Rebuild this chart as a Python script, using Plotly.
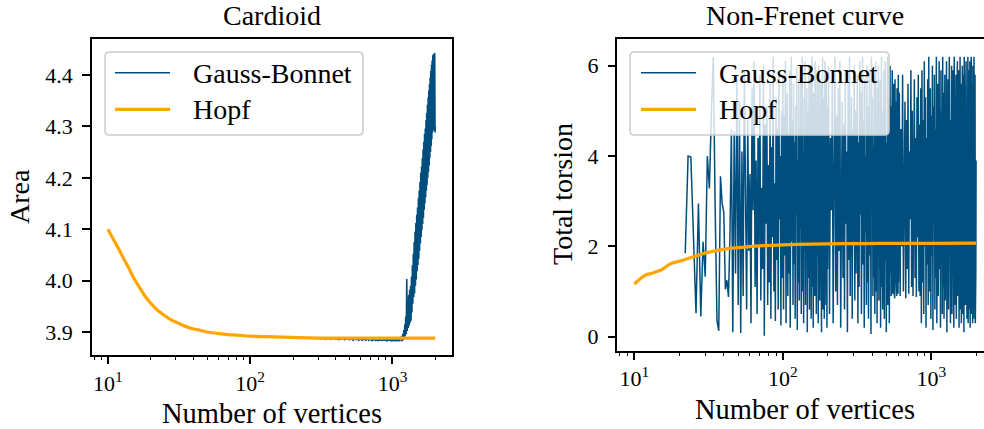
import plotly.graph_objects as go

W, H = 984, 429
BLUE = "#004e7e"
ORANGE = "#ffa500"
FONT = "Liberation Serif"

# ---------------- data ----------------
titles = ["Cardioid", "Non-Frenet curve"]
ylabels = ["Area", "Total torsion"]
xlabel = "Number of vertices"
series_names = ["Gauss-Bonnet", "Hopf"]
xtick_vals = [10, 100, 1000]
xtick_text = ["10<sup>1</sup>", "10<sup>2</sup>", "10<sup>3</sup>"]
xminor_vals = [8, 9, 20, 30, 40, 50, 60, 70, 80, 90,
               200, 300, 400, 500, 600, 700, 800, 900, 2000]
ytick_left = [3.9, 4.0, 4.1, 4.2, 4.3, 4.4]
ytick_right = [0, 2, 4, 6]

# Cardioid, Hopf
card_hopf_n = [10, 11, 12, 13, 14, 15, 16, 17, 18, 20, 22, 25, 28, 32, 36, 40,
               45, 50, 60, 70, 80, 100, 130, 170, 220, 300, 400, 600, 1000, 1500, 2000]
card_hopf_area = [4.100, 4.079, 4.060, 4.041, 4.025, 4.008, 3.995, 3.983, 3.972,
                  3.956, 3.944, 3.932, 3.923, 3.916, 3.910, 3.906, 3.903, 3.900,
                  3.897, 3.895, 3.894, 3.892, 3.891, 3.890, 3.889, 3.888, 3.888,
                  3.888, 3.888, 3.888, 3.888]

# Cardioid, Gauss-Bonnet (n = 300, 310, ..., 2000)
card_gb_n = list(range(300, 2001, 10))
card_gb_area = [
    3.888, 3.887, 3.888, 3.887, 3.886, 3.888, 3.887, 3.886, 3.888, 3.887,
    3.886, 3.888, 3.885, 3.887, 3.886, 3.888, 3.885, 3.887, 3.886, 3.888,
    3.885, 3.887, 3.886, 3.884, 3.888, 3.886, 3.885, 3.887, 3.884, 3.886,
    3.887, 3.884, 3.886, 3.885, 3.888, 3.884, 3.886, 3.887, 3.884, 3.885,
    3.887, 3.884, 3.886, 3.883, 3.888, 3.885, 3.884, 3.887, 3.883, 3.886,
    3.884, 3.887, 3.883, 3.886, 3.885, 3.883, 3.888, 3.884, 3.886, 3.883,
    3.887, 3.884, 3.882, 3.886, 3.884, 3.889, 3.883, 3.885, 3.882, 3.887,
    3.884, 3.882, 3.888, 3.883, 3.886, 3.882, 3.889, 3.884, 3.882, 3.887,
    3.883, 3.890, 3.882, 3.886, 3.884, 3.891, 3.885,
    3.882, 3.896, 3.884, 3.904, 3.886, 3.915, 3.892, 3.930, 3.896, 4.003,
    3.902, 3.962, 3.908, 3.972, 3.912, 3.982, 3.918, 3.990, 3.922, 4.008,
    3.938, 4.030, 3.955, 4.052, 3.968, 4.075, 3.975, 4.095, 3.990, 4.112,
    4.002, 4.128, 4.018, 4.142, 4.030, 4.160, 4.042, 4.175, 4.058, 4.192,
    4.072, 4.210, 4.085, 4.222, 4.098, 4.238, 4.110, 4.255, 4.122, 4.270,
    4.138, 4.285, 4.150, 4.296, 4.162, 4.312, 4.175, 4.326, 4.186, 4.342,
    4.200, 4.356, 4.212, 4.370, 4.224, 4.382, 4.238, 4.395, 4.250, 4.408,
    4.262, 4.420, 4.275, 4.428, 4.288, 4.436, 4.296, 4.440, 4.292, 4.438,
    4.298, 4.443, 4.288, 4.300,
]

# Non-Frenet curve, Hopf
nf_hopf_n = [10, 11, 12, 13, 14, 15, 16, 17, 18, 19, 20, 22, 25, 29, 35, 44,
             55, 74, 100, 125, 200, 350, 600, 1000, 2000]
nf_hopf_tors = [1.166, 1.29, 1.37, 1.40, 1.44, 1.47, 1.53, 1.59, 1.63, 1.65, 1.67,
                1.71, 1.77, 1.84, 1.90, 1.955, 1.985, 2.015, 2.032, 2.044, 2.055,
                2.062, 2.066, 2.068, 2.07]

# Non-Frenet curve, Gauss-Bonnet
nf_gb_n = (list(range(22, 200)) + list(range(200, 600, 3)) + list(range(600, 2001, 8)))
nf_gb_tors = [
    # 22-50
    1.85, 4.00, 3.98, 2.30, 0.52, 2.95, 0.45, 2.10, 1.33, 4.00, 3.28, 4.95, 6.20,
    2.80, 0.35, 0.13, 3.55, 2.95, 2.75, 1.05, 1.25, 0.88, 2.20, 4.60, 0.10, 4.55,
    1.40, 5.70, 0.70,
    # 51-99
    5.20, 0.08, 4.10, 0.90, 5.90, 2.30, 0.60, 4.80, 1.90, 3.60, 0.30, 5.50, 2.80,
    6.10, 1.10, 3.90, 0.50, 4.40, 2.00, 5.80, 0.80, 3.30, 1.50, 6.00, 0.02, 4.70,
    2.50, 5.10, 0.70, 3.80, 1.20, 5.60, 0.40, 4.20, 2.20, 6.20, 1.00, 3.40, 0.35,
    5.30, 1.70, 4.60, 0.60, 5.90, 2.60, 4.00, 0.25, 5.00, 1.30,
    # 100-199
    5.8, 0.6, 4.9, 1.8, 6.1, 0.3, 3.7, 5.4, 0.9, 4.5,
    1.4, 5.9, 0.2, 3.2, 6.2, 2.1, 4.8, 0.7, 5.6, 1.6,
    4.3, 0.4, 5.1, 2.7, 6.0, 0.15, 3.9, 1.2, 5.7, 0.8,
    4.6, 2.4, 5.9, 0.5, 3.5, 6.2, 1.0, 4.1, 0.3, 5.3,
    1.9, 6.1, 0.7, 4.4, 2.9, 5.5, 0.1, 3.8, 5.0, 1.3,
    6.0, 0.6, 4.7, 1.7, 5.8, 0.4, 3.3, 6.2, 1.1, 4.9,
    0.2, 5.4, 2.2, 4.0, 0.9, 6.1, 1.5, 5.2, 0.5, 3.6,
    5.9, 1.8, 4.5, 0.3, 6.0, 2.6, 5.0, 0.8, 3.1, 5.7,
    1.0, 4.2, 0.1, 5.6, 2.0, 6.2, 0.6, 4.8, 1.4, 5.3,
    0.4, 3.9, 6.1, 1.2, 4.6, 0.7, 5.8, 2.3, 0.2, 5.1,
    # 200-599 step 3
    1.5, 6.0, 0.5, 4.4, 2.8, 5.7, 0.3, 3.6, 6.2, 1.0,
    4.9, 0.7, 5.5, 1.9, 6.1, 0.2, 3.4, 5.2, 1.3, 4.7,
    0.6, 5.9, 2.5, 4.1, 0.1, 5.6, 1.7, 6.2, 0.9, 3.8,
    5.3, 0.4, 4.6, 2.1, 6.0, 0.8, 5.0, 1.4, 3.2, 5.8,
    0.3, 4.3, 1.1, 6.1, 2.7, 5.4, 0.5, 3.9, 6.2, 1.6,
    4.8, 0.2, 5.7, 2.3, 4.0, 0.7, 6.0, 1.2, 5.1, 0.4,
    3.5, 5.9, 1.8, 4.5, 0.06, 6.2, 2.9, 5.3, 0.9, 4.2,
    1.3, 5.8, 0.5, 3.7, 6.1, 1.0, 4.9, 0.3, 5.5, 2.2,
    6.0, 0.8, 4.4, 1.5, 5.7, 0.2, 3.3, 6.2, 1.1, 5.0,
    0.6, 4.7, 2.6, 5.9, 0.4, 3.8, 6.1, 1.7, 4.3, 0.1,
    5.6, 2.0, 6.2, 0.7, 4.6, 1.2, 5.3, 0.3, 3.6, 6.0,
    1.4, 5.1, 0.9, 4.8, 2.4, 5.9, 0.95, 4.1, 1.8, 5.6,
    1.0, 4.4, 0.85, 5.7, 2.1, 5.2, 1.3, 4.9, 0.9, 5.5,
    1.6, 4.2, 0.95, 5.8,
    # 600-848 step 8
    1.2, 5.4, 0.9, 4.6, 2.0, 5.8, 1.0, 3.9, 5.2, 0.85,
    4.8, 1.5, 5.6, 0.95, 4.1, 2.6, 5.9, 1.1, 5.0, 0.9,
    3.6, 5.7, 1.3, 4.4, 0.88, 5.3, 2.2, 5.8, 1.0, 4.7,
    0.9, 5.5,
    # 856-2000 step 8
    0.3, 5.9, 1.2, 4.8, 0.5, 6.1, 2.0, 5.3, 0.2, 4.4, 1.6, 5.7,
    0.7, 6.2, 1.0, 3.8, 5.5, 0.4, 4.9, 1.8, 6.0, 0.15, 5.1, 2.5,
    5.8, 0.6, 4.6, 1.3, 6.2, 0.3, 3.5, 5.6, 0.9, 4.2, 6.1, 1.5,
    5.0, 0.2, 5.9, 2.2, 4.7, 0.5, 6.2, 1.1, 5.4, 0.4, 3.9, 5.8,
    0.8, 4.5, 1.7, 6.1, 0.1, 5.2, 2.8, 5.7, 0.6, 4.3, 6.2, 1.2,
    5.5, 0.3, 4.8, 1.9, 6.0, 0.5, 3.7, 5.9, 1.0, 4.6, 0.2, 6.2,
    1.4, 5.3, 0.7, 4.1, 5.8, 0.4, 5.0, 2.3, 6.1, 0.9, 4.4, 1.6,
    5.9, 0.2, 4.9, 1.1, 6.2, 0.6, 3.6, 5.6, 0.3, 5.2, 1.8, 6.0,
    0.5, 4.7, 2.0, 5.8, 0.1, 6.2, 1.3, 4.3, 5.5, 0.7, 3.9, 6.1,
    1.0, 5.4, 0.4, 4.6, 2.5, 6.2, 0.3, 5.1, 1.5, 5.9, 0.6, 4.8,
    6.1, 0.2, 3.8, 5.7, 1.2, 6.2, 0.5, 4.5, 1.9, 5.6, 0.3, 6.0,
    0.9, 5.2, 0.4, 6.2, 1.7, 4.9, 0.6, 5.8, 0.3, 4.2, 1.4, 3.9,
]

assert len(card_hopf_n) == len(card_hopf_area), (len(card_hopf_n), len(card_hopf_area))
assert len(card_gb_n) == len(card_gb_area), (len(card_gb_n), len(card_gb_area))
assert len(nf_hopf_n) == len(nf_hopf_tors), (len(nf_hopf_n), len(nf_hopf_tors))
assert len(nf_gb_n) == len(nf_gb_tors), (len(nf_gb_n), len(nf_gb_tors))

# ---------------- layout helpers (pixel -> paper) ----------------
def PX(p):
    return p / W


def PY(p):
    return 1 - p / H


def rrect(x0, y0, x1, y1, r):
    pts = [
        ("M", [(x0 + r, y0)]), ("L", [(x1 - r, y0)]), ("Q", [(x1, y0), (x1, y0 + r)]),
        ("L", [(x1, y1 - r)]), ("Q", [(x1, y1), (x1 - r, y1)]), ("L", [(x0 + r, y1)]),
        ("Q", [(x0, y1), (x0, y1 - r)]), ("L", [(x0, y0 + r)]), ("Q", [(x0, y0), (x0 + r, y0)]),
    ]
    s = ""
    for cmd, ps in pts:
        s += cmd + " " + " ".join(f"{PX(a):.5f},{PY(b):.5f}" for a, b in ps) + " "
    return s + "Z"


fig = go.Figure()

fig.add_trace(go.Scatter(x=card_gb_n, y=card_gb_area, mode="lines", name=series_names[0],
                         line=dict(color=BLUE, width=1.6), xaxis="x", yaxis="y"))
fig.add_trace(go.Scatter(x=card_hopf_n, y=card_hopf_area, mode="lines", name=series_names[1],
                         line=dict(color=ORANGE, width=3.2, shape="spline", smoothing=0.6),
                         xaxis="x", yaxis="y"))
fig.add_trace(go.Scatter(x=nf_gb_n, y=nf_gb_tors, mode="lines", name=series_names[0],
                         line=dict(color=BLUE, width=1.5), xaxis="x2", yaxis="y2"))
fig.add_trace(go.Scatter(x=nf_hopf_n, y=nf_hopf_tors, mode="lines", name=series_names[1],
                         line=dict(color=ORANGE, width=3.2, shape="spline", smoothing=0.6),
                         xaxis="x2", yaxis="y2"))
# empty traces that carry the minor-tick overlay axes
fig.add_trace(go.Scatter(x=[], y=[], xaxis="x3", yaxis="y", showlegend=False, hoverinfo="skip"))
fig.add_trace(go.Scatter(x=[], y=[], xaxis="x4", yaxis="y2", showlegend=False, hoverinfo="skip"))

axis_common = dict(showgrid=False, zeroline=False, showline=True, linecolor="black",
                   linewidth=1.7, ticks="outside", ticklen=7.5, tickwidth=1.7,
                   tickcolor="black", tickfont=dict(family=FONT, size=22, color="black"))
minor_axis = dict(showgrid=False, zeroline=False, showline=False, ticks="outside",
                  ticklen=4.3, tickwidth=1.3, tickcolor="black", showticklabels=False,
                  type="log", tickmode="array", tickvals=xminor_vals, side="bottom")

fig.update_layout(
    width=W, height=H, margin=dict(l=0, r=0, t=0, b=0),
    paper_bgcolor="white", plot_bgcolor="white", showlegend=False,
    font=dict(family=FONT, color="black"),
    xaxis=dict(axis_common, type="log", range=[0.88495, 3.41608],
               domain=[PX(91.5), PX(451.7)], anchor="y", mirror=True,
               tickmode="array", tickvals=xtick_vals, ticktext=xtick_text),
    yaxis=dict(axis_common, range=[3.8553, 4.470], domain=[PY(355), PY(39)],
               anchor="x", mirror=True, tickmode="array", tickvals=ytick_left,
               tickformat=".1f", ticklabelstandoff=5),
    xaxis2=dict(axis_common, type="log", range=[0.88495, 3.3543],
                domain=[PX(617.3), 1.0], anchor="y2", mirror=True,
                tickmode="array", tickvals=xtick_vals, ticktext=xtick_text),
    yaxis2=dict(axis_common, range=[-0.310, 6.591], domain=[PY(350.7), PY(39)],
                anchor="x2", mirror=False, tickmode="array", tickvals=ytick_right,
                ticklabelstandoff=5),
    xaxis3=dict(minor_axis, range=[0.88495, 3.41608], domain=[PX(91.5), PX(451.7)],
                anchor="y", overlaying="x"),
    xaxis4=dict(minor_axis, range=[0.88495, 3.3543], domain=[PX(617.3), 1.0],
                anchor="y2", overlaying="x2"),
)

BIG = dict(family=FONT, size=28, color="black")
XL = dict(family=FONT, size=28.5, color="black")
ann = []
# titles
ann.append(dict(text=titles[0], x=PX(271.6), y=PY(15), xref="paper", yref="paper",
                showarrow=False, font=BIG, xanchor="center", yanchor="middle"))
ann.append(dict(text=titles[1], x=PX(805), y=PY(15), xref="paper", yref="paper",
                showarrow=False, font=BIG, xanchor="center", yanchor="middle"))
# x labels
ann.append(dict(text=xlabel, x=PX(271.6), y=PY(413), xref="paper", yref="paper",
                showarrow=False, font=XL, xanchor="center", yanchor="middle"))
ann.append(dict(text=xlabel, x=PX(805), y=PY(409), xref="paper", yref="paper",
                showarrow=False, font=XL, xanchor="center", yanchor="middle"))
# y labels
ann.append(dict(text=ylabels[0], x=PX(19), y=PY(197), xref="paper", yref="paper",
                showarrow=False, font=BIG, textangle=-90, xanchor="center", yanchor="middle"))
ann.append(dict(text=ylabels[1], x=PX(562), y=PY(194), xref="paper", yref="paper",
                showarrow=False, font=BIG, textangle=-90, xanchor="center", yanchor="middle"))

shapes = []
for (bx0, bx1, lx0, lx1, tx) in [(105, 363, 115, 170, 191), (630, 889, 641, 696, 716.7)]:
    shapes.append(dict(type="path", path=rrect(bx0, 52, bx1, 135, 4.5), xref="paper",
                       yref="paper", layer="above", fillcolor="rgba(255,255,255,0.8)",
                       line=dict(color="#cccccc", width=1.5)))
    shapes.append(dict(type="line", x0=PX(lx0), x1=PX(lx1), y0=PY(72.7), y1=PY(72.7),
                       xref="paper", yref="paper", layer="above",
                       line=dict(color=BLUE, width=1.6)))
    shapes.append(dict(type="line", x0=PX(lx0), x1=PX(lx1), y0=PY(109.3), y1=PY(109.3),
                       xref="paper", yref="paper", layer="above",
                       line=dict(color=ORANGE, width=3.2)))
    ann.append(dict(text=series_names[0], x=PX(tx), y=PY(73.5), xref="paper", yref="paper",
                    showarrow=False, font=BIG, xanchor="left", yanchor="middle"))
    ann.append(dict(text=series_names[1], x=PX(tx), y=PY(110), xref="paper", yref="paper",
                    showarrow=False, font=BIG, xanchor="left", yanchor="middle"))

fig.update_layout(annotations=ann, shapes=shapes)
fig.write_html("out.html", config={"displayModeBar": False},
               post_script="document.body.style.margin='0';document.body.style.overflow='hidden';")
